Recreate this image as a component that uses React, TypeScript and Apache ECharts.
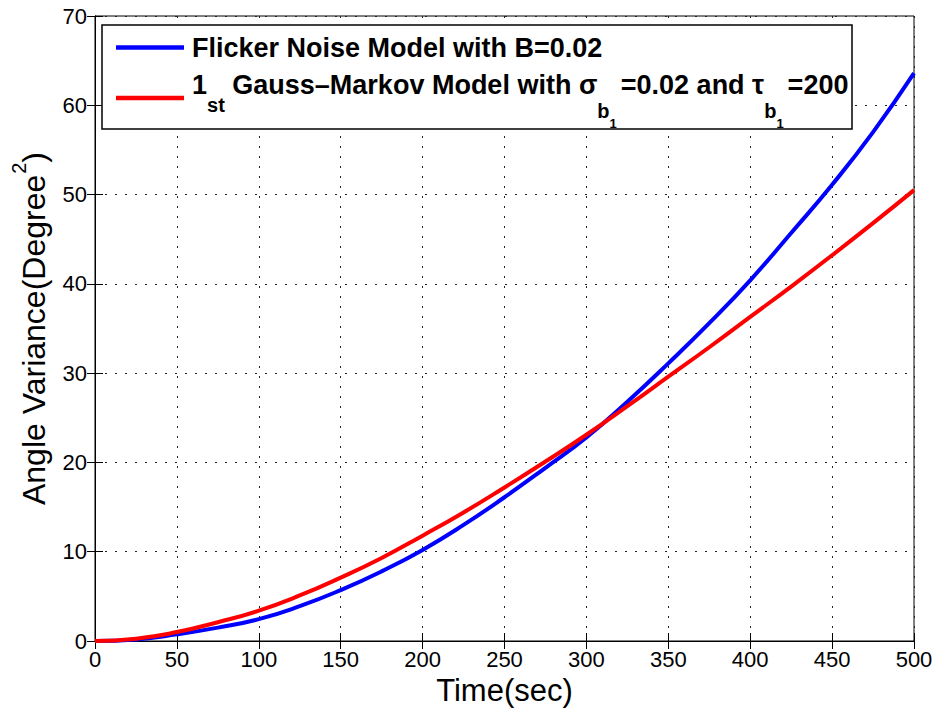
import React, { useEffect, useRef } from "react";
import * as echarts from "echarts";

// ---- data ----
const timeSec = [0, 25, 50, 75, 100, 125, 150, 175, 200, 225, 250, 275, 300, 325, 350, 375, 400, 425, 450, 475, 500];
const flickerVariance = [0, 0.18, 0.75, 1.5, 2.45, 3.9, 5.7, 7.8, 10.2, 13.0, 16.1, 19.4, 22.8, 26.8, 31.1, 35.6, 40.4, 45.7, 51.1, 57.0, 63.6];
const gaussMarkovVariance = [0, 0.26, 1.0, 2.1, 3.4, 5.1, 7.1, 9.3, 11.8, 14.4, 17.2, 20.1, 23.1, 26.3, 29.6, 32.9, 36.3, 39.7, 43.2, 46.8, 50.5];

const seriesNames = [
  "Flicker Noise Model with B=0.02",
  "1st Gauss–Markov Model with σb1=0.02 and τb1=200",
];
const seriesColors = ["#0000ff", "#ff0000"];

const xAxisTitle = "Time(sec)";
const yAxisTitleMain = "Angle Variance(Degree";
const yAxisTitleSup = "2";

const FONT = "'Liberation Sans', Arial, Helvetica, sans-serif";

export default function App() {
  const ref = useRef<HTMLDivElement>(null);

  useEffect(() => {
    if (!ref.current) return;
    const chart = echarts.init(ref.current, null, { renderer: "svg" });

    const LF = 27; // legend font size
    const SF = 20; // subscript size
    const SSF = 13; // sub-sub size
    const LH = 40;
    const base = { fontFamily: FONT, fontWeight: "bold", lineHeight: LH, color: "#000" };

    const legendRich: any = {
      m0: { ...base, fontSize: LF, padding: [0, 0, 0, 3] },
      r0: { ...base, fontSize: LF, padding: [0, 0, 26, 3] },
      r: { ...base, fontSize: LF, padding: [0, 0, 26, 0] },
      s: { ...base, fontSize: SF, padding: [14, 0, 0, 0] },
      sb: { ...base, fontSize: SF, padding: [26, 0, 0, 0] },
      ss: { ...base, fontSize: SSF, padding: [51, 4, 0, 0] },
    };

    const gridLine = { show: true, lineStyle: { color: "#222", width: 1, type: [2, 8] as any } };

    chart.setOption({
      animation: false,
      backgroundColor: "#fff",
      grid: {
        left: 95,
        right: 24,
        top: 16,
        bottom: 73,
        show: true,
        borderColor: "#000",
        borderWidth: 1,
        backgroundColor: "#fff",
        outerBoundsMode: "none",
        containLabel: false,
      },
      // frame of the legend box
      graphic: [
        {
          type: "rect",
          z: 5,
          silent: true,
          shape: { x: 102, y: 25, width: 750, height: 104 },
          style: { fill: "#fff", stroke: "#000", lineWidth: 1.5 },
        },
      ],
      legend: {
        show: true,
        orient: "vertical",
        left: 102,
        top: 32,
        padding: [2, 2, 0, 14],
        itemGap: 5,
        itemWidth: 68,
        itemHeight: 4.5,
        icon: "rect",
        borderWidth: 0,
        backgroundColor: "transparent",
        z: 10,
        data: seriesNames,
        formatter: (name: string) => {
          if (name === seriesNames[0]) return "{m0|Flicker Noise Model with B=0.02}";
          return "{r0|1}{s|st}{r| Gauss–Markov Model with σ}{sb|b}{ss|1}{r|=0.02 and τ}{sb|b}{ss|1}{r|=200}";
        },
        textStyle: { rich: legendRich, fontFamily: FONT, fontWeight: "bold", fontSize: LF },
      },
      xAxis: [
        {
          type: "value",
          min: 0,
          max: 500,
          interval: 50,
          position: "bottom",
          axisLine: { show: true, lineStyle: { color: "#000", width: 1 } },
          axisTick: { show: true, inside: true, length: 8, lineStyle: { color: "#000" } },
          axisLabel: { show: true, color: "#000", fontFamily: FONT, fontSize: 22, margin: 7 },
          splitLine: gridLine,
          name: xAxisTitle,
          nameLocation: "middle",
          nameGap: 31,
          nameMoveOverlap: false,
          nameTextStyle: { color: "#000", fontFamily: FONT, fontSize: 31, lineHeight: 36 },
        },
        {
          type: "value",
          min: 0,
          max: 500,
          interval: 50,
          position: "top",
          axisLine: { show: true, lineStyle: { color: "#000", width: 1 } },
          axisTick: { show: true, inside: true, length: 8, lineStyle: { color: "#000" } },
          axisLabel: { show: false },
          splitLine: { show: false },
        },
      ],
      yAxis: [
        {
          type: "value",
          min: 0,
          max: 70,
          interval: 10,
          position: "left",
          axisLine: { show: true, lineStyle: { color: "#000", width: 1 } },
          axisTick: { show: true, inside: true, length: 8, lineStyle: { color: "#000" } },
          axisLabel: { show: true, color: "#000", fontFamily: FONT, fontSize: 22, margin: 8 },
          splitLine: gridLine,
          name: "{a|" + yAxisTitleMain + "}{b|" + yAxisTitleSup + "}{a|)}",
          nameLocation: "middle",
          nameGap: 39,
          nameMoveOverlap: false,
          nameTextStyle: {
            color: "#000",
            rich: {
              a: { fontFamily: FONT, fontSize: 32, lineHeight: 44, color: "#000" },
              b: { fontFamily: FONT, fontSize: 20, lineHeight: 44, color: "#000", padding: [0, 0, 30, 1] },
            },
          },
        },
        {
          type: "value",
          min: 0,
          max: 70,
          interval: 10,
          position: "right",
          axisLine: { show: true, lineStyle: { color: "#000", width: 1 } },
          axisTick: { show: true, inside: true, length: 8, lineStyle: { color: "#000" } },
          axisLabel: { show: false },
          splitLine: { show: false },
        },
      ],
      series: [
        {
          name: seriesNames[0],
          type: "line",
          xAxisIndex: 0,
          yAxisIndex: 0,
          data: timeSec.map((t, i) => [t, flickerVariance[i]]),
          smooth: true,
          showSymbol: false,
          symbol: "none",
          lineStyle: { color: seriesColors[0], width: 4 },
          itemStyle: { color: seriesColors[0] },
          z: 3,
        },
        {
          name: seriesNames[1],
          type: "line",
          xAxisIndex: 0,
          yAxisIndex: 0,
          data: timeSec.map((t, i) => [t, gaussMarkovVariance[i]]),
          smooth: true,
          showSymbol: false,
          symbol: "none",
          lineStyle: { color: seriesColors[1], width: 4 },
          itemStyle: { color: seriesColors[1] },
          z: 4,
        },
      ],
    });

    return () => chart.dispose();
  }, []);

  return (
    <div
      ref={ref}
      style={{ position: "fixed", left: 0, top: 0, width: 938, height: 714, background: "#fff" }}
    />
  );
}
